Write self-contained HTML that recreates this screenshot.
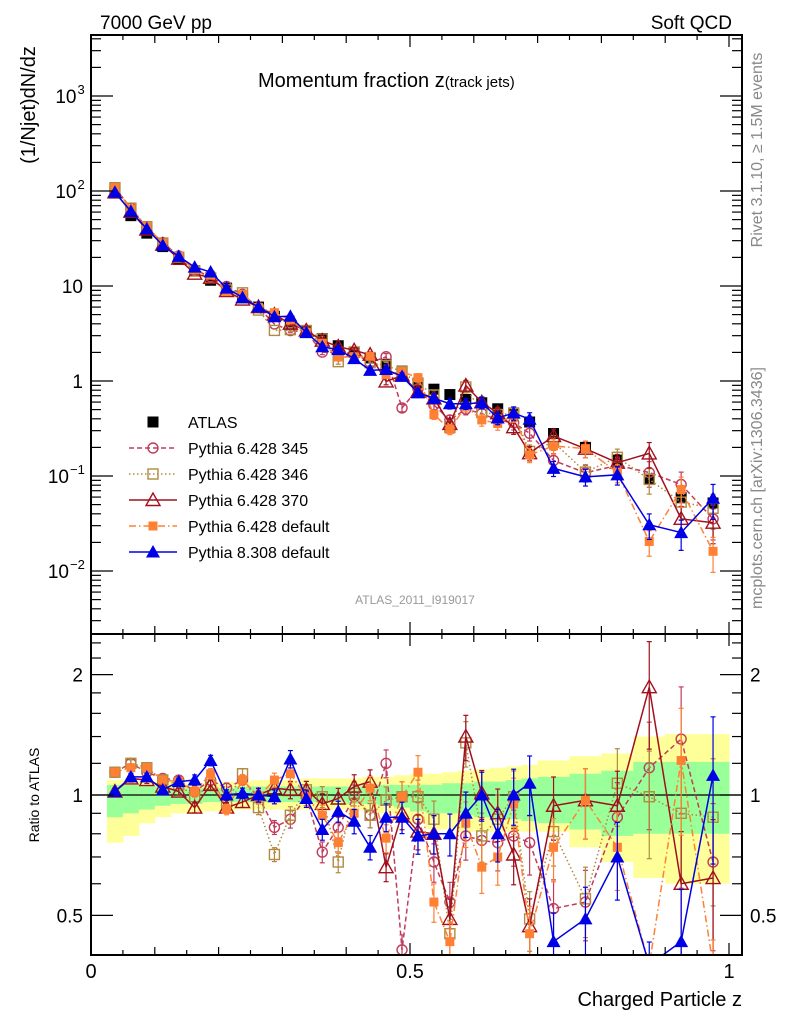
<!DOCTYPE html>
<html><head><meta charset="utf-8">
<style>
html,body{margin:0;padding:0;background:#fff;width:786px;height:1024px;overflow:hidden;}
svg{display:block;font-family:"Liberation Sans",Arial,sans-serif;}
</style></head>
<body>
<svg id="chart" width="786" height="1024" viewBox="0 0 786 1024" xmlns="http://www.w3.org/2000/svg">
<g id="bands"></g>
<g id="ratioline"></g>
<g id="series"></g>
<g id="axes"></g>
<text x="100" y="29" font-size="19">7000 GeV pp</text>
<text x="732" y="29" font-size="19" text-anchor="end">Soft QCD</text>
<text x="258" y="87" font-size="20">Momentum fraction z<tspan font-size="15">(track jets)</tspan></text>
<text x="415" y="604" font-size="12" fill="#999" text-anchor="middle">ATLAS_2011_I919017</text>
<text transform="translate(35,105) rotate(-90)" font-size="20" text-anchor="middle">(1/Njet)dN/dz</text>
<text transform="translate(39,795) rotate(-90)" font-size="14" text-anchor="middle">Ratio to ATLAS</text>
<text x="742" y="1006" font-size="20" text-anchor="end">Charged Particle z</text>
<text transform="translate(762,150) rotate(-90)" font-size="16" fill="#888" text-anchor="middle">Rivet 3.1.10, ≥ 1.5M events</text>
<text transform="translate(762,488) rotate(-90)" font-size="16" fill="#888" text-anchor="middle">mcplots.cern.ch [arXiv:1306.3436]</text>
<g id="legend"></g>
</svg>
<script>
const binLo = [0.025,0.05,0.075,0.1,0.125,0.15,0.175,0.2,0.225,0.25,0.275,0.3,0.325,0.35,0.375,0.4,0.425,0.45,0.475,0.5,0.525,0.55,0.575,0.6,0.625,0.65,0.675,0.7,0.75,0.8,0.85,0.9,0.95];
const binHi = [0.05,0.075,0.1,0.125,0.15,0.175,0.2,0.225,0.25,0.275,0.3,0.325,0.35,0.375,0.4,0.425,0.45,0.475,0.5,0.525,0.55,0.575,0.6,0.625,0.65,0.675,0.7,0.75,0.8,0.85,0.9,0.95,1.0];
const zCenters = [0.0375,0.0625,0.0875,0.1125,0.1375,0.1625,0.1875,0.2125,0.2375,0.2625,0.2875,0.3125,0.3375,0.3625,0.3875,0.4125,0.4375,0.4625,0.4875,0.5125,0.5375,0.5625,0.5875,0.6125,0.6375,0.6625,0.6875,0.725,0.775,0.825,0.875,0.925,0.975];
const atlasValues = [95,55,36,26,19,14.5,11.5,9.5,7.5,6,4.8,3.9,3.3,2.8,2.35,2.0,1.75,1.5,1.27,0.95,0.82,0.72,0.64,0.59,0.51,0.46,0.37,0.28,0.2,0.147,0.093,0.059,0.052];
const ratioP345 = [1.14,1.2,1.14,1.1,1.09,1.02,1.09,1.04,1.09,0.99,0.83,0.87,0.99,0.72,0.83,0.99,0.89,1.2,0.41,0.87,0.68,0.54,0.79,0.77,0.76,0.79,0.76,0.52,0.54,0.88,1.17,1.38,0.68];
const ratioP346 = [1.14,1.2,1.17,1.09,1.06,0.99,1.06,0.96,1.13,0.93,0.71,0.89,1.03,0.99,0.68,1.01,0.89,0.97,0.99,0.99,0.87,0.45,1.35,0.79,0.87,0.99,0.49,0.81,0.55,1.07,0.99,0.9,0.88];
const ratioP370 = [1.02,1.1,1.09,1.05,1.02,0.93,1.06,0.93,0.96,1.0,1.04,1.03,1.03,0.95,0.98,1.05,1.08,0.66,0.9,0.81,0.8,0.49,1.4,1.01,0.9,0.71,0.47,0.94,0.97,0.94,1.86,0.6,0.62];
const ratioP6def = [1.14,1.17,1.17,1.09,1.08,1.02,1.13,0.92,1.09,0.99,1.09,1.13,0.99,0.89,0.76,0.9,1.04,0.78,0.99,1.14,0.54,0.43,0.85,0.66,0.7,0.95,0.45,0.74,0.97,0.74,0.22,1.22,0.31];
const ratioP8 = [1.02,1.11,1.11,1.03,1.08,1.09,1.22,1.0,1.01,1.0,0.99,1.23,0.98,0.82,0.91,0.86,0.74,0.88,0.88,0.79,0.8,0.8,0.9,1.0,0.8,1.0,1.07,0.43,0.49,0.7,0.33,0.43,1.12];
const relErr = [0.02,0.02,0.02,0.02,0.02,0.03,0.03,0.03,0.03,0.04,0.04,0.05,0.05,0.06,0.06,0.07,0.07,0.08,0.09,0.1,0.11,0.12,0.13,0.14,0.15,0.16,0.17,0.18,0.2,0.22,0.3,0.35,0.4];
const yellowLo = [0.76,0.79,0.85,0.88,0.9,0.9,0.91,0.91,0.92,0.92,0.92,0.92,0.92,0.92,0.92,0.92,0.91,0.9,0.88,0.85,0.82,0.82,0.81,0.81,0.81,0.81,0.81,0.81,0.74,0.68,0.62,0.6,0.6];
const yellowHi = [1.09,1.09,1.08,1.08,1.07,1.07,1.07,1.08,1.08,1.09,1.09,1.09,1.1,1.1,1.1,1.1,1.11,1.11,1.12,1.13,1.13,1.14,1.15,1.16,1.17,1.18,1.19,1.22,1.25,1.27,1.4,1.42,1.42];
const greenLo = [0.88,0.9,0.92,0.94,0.95,0.95,0.96,0.96,0.96,0.96,0.96,0.96,0.96,0.96,0.96,0.95,0.95,0.94,0.93,0.91,0.9,0.9,0.89,0.88,0.87,0.87,0.86,0.85,0.82,0.79,0.8,0.8,0.8];
const greenHi = [1.06,1.06,1.05,1.05,1.04,1.04,1.04,1.04,1.05,1.05,1.05,1.05,1.05,1.05,1.05,1.05,1.06,1.06,1.06,1.06,1.06,1.07,1.07,1.08,1.08,1.09,1.1,1.11,1.13,1.15,1.21,1.21,1.21];
const yTickLabels = ["10^3","10^2","10","1","10^-1","10^-2"];
const yTickValues = [1000,100,10,1,0.1,0.01];
const rTickValues = [2,1,0.5];
const rTickLabels = ["2","1","0.5"];

const NS="http://www.w3.org/2000/svg";
const L=91,R=742,T=35,MB=634,RB=955;
const xMin=0,xMax=(R-L)/638;
function X(z){return L+(z-xMin)/(xMax-xMin)*(R-L);}
const yTopLog=Math.log10(1000)+(96-T)/95, yBotLog=yTopLog-(MB-T)/95;
function Y(v){return T+(yTopLog-Math.log10(v))/(yTopLog-yBotLog)*(MB-T);}
const rTopLog=(795-MB)/400, rBotLog=-(RB-795)/400;
function RY(r){return MB+(rTopLog-Math.log10(r))/(rTopLog-rBotLog)*(RB-MB);}
function clampM(y){return Math.min(Math.max(y,T-10),MB+10);}
function clampR(y){return Math.min(Math.max(y,MB-10),RB+10);}
function mk(tag,attrs,parent){const e=document.createElementNS(NS,tag);for(const k in attrs)e.setAttribute(k,attrs[k]);parent.appendChild(e);return e;}

const bands=document.getElementById('bands');
const clipR=mk('clipPath',{id:'clipR'},document.getElementById('chart'));
mk('rect',{x:L,y:MB,width:R-L,height:RB-MB},clipR);
const clipM=mk('clipPath',{id:'clipM'},document.getElementById('chart'));
mk('rect',{x:L,y:T,width:R-L,height:MB-T},clipM);
for(let i=0;i<binLo.length;i++){
  const x0=X(binLo[i]),x1=X(binHi[i]);
  const y=mk('rect',{x:x0,y:RY(yellowHi[i]),width:x1-x0+0.5,height:RY(yellowLo[i])-RY(yellowHi[i]),fill:'#ffff99'},bands);
  
  
  const g=mk('rect',{x:x0,y:RY(greenHi[i]),width:x1-x0+0.5,height:RY(greenLo[i])-RY(greenHi[i]),fill:'#99ff99'},bands);
  
  
}
mk('line',{x1:L,x2:R,y1:RY(1),y2:RY(1),stroke:'#000','stroke-width':1.2},document.getElementById('ratioline'));

const seriesG=document.getElementById('series');
const mcSeries=[
 {name:'pythia-6428-345',ratio:ratioP345,color:'#c03c5c',dash:'5,3',marker:'circle'},
 {name:'pythia-6428-346',ratio:ratioP346,color:'#b08a40',dash:'1.5,2.5',marker:'square-open'},
 {name:'pythia-6428-370',ratio:ratioP370,color:'#a0101e',dash:'',marker:'tri-open'},
 {name:'pythia-6428-default',ratio:ratioP6def,color:'#ff8033',dash:'7,3,1.5,3',marker:'square-fill'},
 {name:'pythia-8308-default',ratio:ratioP8,color:'#0000e6',dash:'',marker:'tri-fill'}
];
function marker(g,type,x,y,color){
  let e;
  if(type==='circle') e=mk('circle',{cx:x,cy:y,r:5,fill:'none',stroke:color,'stroke-width':1.4},g);
  else if(type==='square-open') e=mk('rect',{x:x-5,y:y-5,width:10,height:10,fill:'none',stroke:color,'stroke-width':1.4},g);
  else if(type==='square-fill') e=mk('rect',{x:x-4.5,y:y-4.5,width:9,height:9,fill:color},g);
  else if(type==='square-black') e=mk('rect',{x:x-5.5,y:y-5.5,width:11,height:11,fill:'#000'},g);
  else if(type==='tri-open') e=mk('polygon',{points:`${x},${y-7} ${x-7},${y+5.5} ${x+7},${y+5.5}`,fill:'none',stroke:color,'stroke-width':1.4},g);
  else e=mk('polygon',{points:`${x},${y-7} ${x-7},${y+5.5} ${x+7},${y+5.5}`,fill:color},g);
  return e;
}
function errBar(g,x,y1,y2,color,capTop,capBot){
  mk('line',{x1:x,x2:x,y1:y1,y2:y2,stroke:color,'stroke-width':1.2},g);
  if(capTop) mk('line',{x1:x-2.5,x2:x+2.5,y1:y1,y2:y1,stroke:color,'stroke-width':1.2},g);
  if(capBot) mk('line',{x1:x-2.5,x2:x+2.5,y1:y2,y2:y2,stroke:color,'stroke-width':1.2},g);
}
const ag=mk('g',{'clip-path':'url(#clipM)'},seriesG);


for(let i=0;i<zCenters.length;i++){
  const m=marker(ag,'square-black',X(zCenters[i]),Y(atlasValues[i]),'#000');
  
  
}
mcSeries.forEach(s=>{
  const gm=mk('g',{'clip-path':'url(#clipM)'},seriesG);
  
  
  const gr=mk('g',{'clip-path':'url(#clipR)'},seriesG);
  
  
  const vals=s.ratio.map((r,i)=>r*atlasValues[i]);
  const pm=vals.map((v,i)=>X(zCenters[i])+','+clampM(Y(v))).join(' ');
  const pr=s.ratio.map((r,i)=>X(zCenters[i])+','+clampR(RY(r))).join(' ');
  mk('polyline',{points:pm,fill:'none',stroke:s.color,'stroke-width':1.5,'stroke-dasharray':s.dash},gm);
  mk('polyline',{points:pr,fill:'none',stroke:s.color,'stroke-width':1.5,'stroke-dasharray':s.dash},gr);
  for(let i=0;i<zCenters.length;i++){
    const x=X(zCenters[i]);const e=relErr[i];
    if(e>0.04){
      const a1=Y(vals[i]*(1+e)),a2=Y(vals[i]*(1-e));
      errBar(gm,x,clampM(a1),clampM(a2),s.color,a1>=T,a2<=MB);
    }
    const b1=RY(s.ratio[i]*(1+e)),b2=RY(s.ratio[i]*(1-e));
    errBar(gr,x,clampR(b1),clampR(b2),s.color,b1>=MB,b2<=RB);
    const ym=Y(vals[i]);
    if(ym<MB+8){
      const a=marker(gm,s.marker,x,ym,s.color);
      
      
    }
    const yr=RY(s.ratio[i]);
    if(yr<RB+8){
      const b=marker(gr,s.marker,x,yr,s.color);
      
      
    }
  }
});

const ax=document.getElementById('axes');
mk('rect',{x:L,y:T,width:R-L,height:RB-T,fill:'none',stroke:'#000','stroke-width':2},ax);
mk('line',{x1:L,x2:R,y1:MB,y2:MB,stroke:'#000','stroke-width':2},ax);
for(let k=0;k<=20;k++){
  const x=X(k*0.05);const len=(k%10===0)?12:(k%2===0?8:5);
  [T,MB].forEach(y0=>{mk('line',{x1:x,x2:x,y1:y0,y2:y0+len,stroke:'#000','stroke-width':1.2},ax);});
  [MB,RB].forEach(y0=>{mk('line',{x1:x,x2:x,y1:y0,y2:y0-len,stroke:'#000','stroke-width':1.2},ax);});
}
[["0",0],["0.5",0.5],["1",1]].forEach(p=>{
  const t=mk('text',{x:X(p[1]),y:978,'font-size':20,'text-anchor':'middle'},ax);t.textContent=p[0];
  
  
});
for(let d=-3;d<=3;d++){
  for(let m=1;m<=9;m++){
    const v=m*Math.pow(10,d);const y=Y(v);if(y<T||y>MB)continue;
    const len=m===1?22:10;
    mk('line',{x1:L,x2:L+len,y1:y,y2:y,stroke:'#000','stroke-width':1.2},ax);
    mk('line',{x1:R,x2:R-len,y1:y,y2:y,stroke:'#000','stroke-width':1.2},ax);
  }
}
yTickValues.forEach((v,i)=>{
  const lab=yTickLabels[i];const y=Y(v)+7;
  if(lab.indexOf('^')>=0){
    const [b,e]=lab.split('^');const ew=e.length*7.5;
    const t=mk('text',{x:84-ew,y:y,'font-size':19,'text-anchor':'end'},ax);t.textContent=b;
    
    
    const t2=mk('text',{x:85-ew,y:y-9,'font-size':13,'text-anchor':'start'},ax);t2.textContent=e.replace('-','−');
    
    
  } else {
    const t=mk('text',{x:83,y:y,'font-size':19,'text-anchor':'end'},ax);t.textContent=lab;
    
    
  }
});
[0.5,0.6,0.7,0.8,0.9,1,1.2,1.4,1.6,1.8,2,2.2,2.4].forEach(r=>{
  const y=RY(r);if(y<MB||y>RB)return;const len=(r===1||r===2||r===0.5)?22:10;
  mk('line',{x1:L,x2:L+len,y1:y,y2:y,stroke:'#000','stroke-width':1.2},ax);
  mk('line',{x1:R,x2:R-len,y1:y,y2:y,stroke:'#000','stroke-width':1.2},ax);
});
rTickValues.forEach((r,i)=>{
  const a=mk('text',{x:83,y:RY(r)+7,'font-size':19,'text-anchor':'end'},ax);a.textContent=rTickLabels[i];
  
  
  const b=mk('text',{x:750,y:RY(r)+7,'font-size':19,'text-anchor':'start'},ax);b.textContent=rTickLabels[i];
  
  
});

const lg=document.getElementById('legend');
const legNames=["ATLAS","Pythia 6.428 345","Pythia 6.428 346","Pythia 6.428 370","Pythia 6.428 default","Pythia 8.308 default"];
legNames.forEach((n,i)=>{
  const y=422+i*26;
  const g=mk('g',{},lg);
  
  
  if(i===0){marker(g,'square-black',153,y,'#000');}
  else{const s=mcSeries[i-1];mk('line',{x1:129,x2:177,y1:y,y2:y,stroke:s.color,'stroke-width':1.5,'stroke-dasharray':s.dash},g);marker(g,s.marker,153,y,s.color);}
  const t=mk('text',{x:188,y:y+6,'font-size':16},g);t.textContent=n;
});
</script>
</body></html>
